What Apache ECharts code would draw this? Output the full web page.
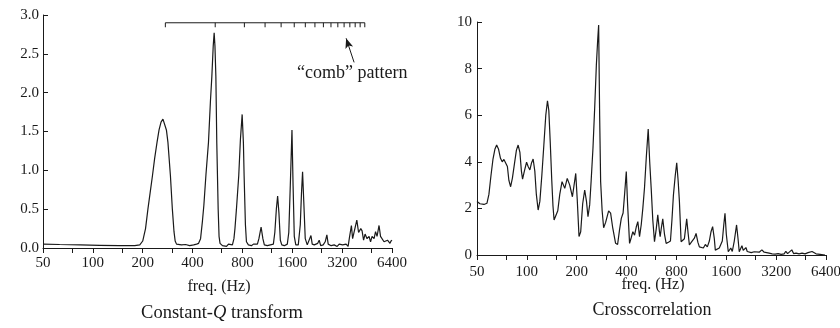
<!DOCTYPE html>
<html><head><meta charset="utf-8">
<script src="https://cdn.jsdelivr.net/npm/echarts@6/dist/echarts.min.js"></script>
<style>html,body{margin:0;padding:0;background:#fff}#c{width:840px;height:328px}</style>
</head><body><div id="c"></div>
<script>
// ---- data (frequency in Hz, amplitude) ----
const cqSpectrum = [[50,0.05],[63,0.045],[84,0.04],[110,0.035],[145,0.03],[179,0.03],[192,0.04],[200,0.09],[208,0.25],[215,0.5],[222,0.72],[229,0.93],[236,1.15],[244,1.36],[251,1.52],[258,1.62],[265,1.66],[271,1.64],[278,1.52],[284,1.36],[294,0.93],[302,0.5],[309,0.21],[314,0.09],[320,0.05],[343,0.04],[363,0.045],[384,0.03],[406,0.04],[423,0.05],[435,0.06],[447,0.12],[459,0.35],[468,0.55],[482,0.95],[499,1.36],[513,1.9],[523,2.21],[533,2.6],[540,2.77],[546,2.6],[553,2.21],[560,1.36],[571,0.5],[578,0.15],[586,0.06],[606,0.03],[623,0.05],[641,0.02],[659,0.05],[677,0.03],[696,0.04],[711,0.12],[721,0.25],[736,0.5],[760,0.93],[778,1.4],[797,1.72],[811,1.35],[819,0.93],[834,0.3],[846,0.08],[869,0.04],[906,0.03],[932,0.05],[958,0.03],[985,0.05],[1006,0.12],[1037,0.27],[1063,0.12],[1085,0.04],[1131,0.03],[1179,0.04],[1230,0.05],[1255,0.2],[1282,0.5],[1305,0.67],[1329,0.45],[1355,0.1],[1383,0.04],[1432,0.03],[1493,0.05],[1524,0.2],[1556,0.8],[1593,1.52],[1618,0.8],[1645,0.15],[1680,0.04],[1739,0.04],[1788,0.3],[1818,0.7],[1846,0.98],[1877,0.6],[1916,0.12],[1970,0.04],[2025,0.05],[2074,0.16],[2111,0.05],[2171,0.04],[2232,0.03],[2279,0.06],[2326,0.1],[2375,0.03],[2459,0.04],[2528,0.08],[2588,0.17],[2636,0.05],[2747,0.03],[2864,0.04],[2986,0.02],[3070,0.05],[3143,0.06],[3222,0.04],[3290,0.03],[3382,0.05],[3477,0.02],[3551,0.15],[3640,0.29],[3701,0.12],[3779,0.14],[3924,0.36],[4022,0.2],[4147,0.25],[4222,0.22],[4311,0.1],[4402,0.18],[4525,0.12],[4653,0.15],[4750,0.08],[4850,0.15],[4987,0.12],[5092,0.21],[5198,0.15],[5345,0.29],[5457,0.15],[5572,0.17],[5728,0.08],[5865,0.06],[6013,0.1],[6139,0.12],[6225,0.06],[6312,0.09],[6400,0.1]];

const xcSpectrum = [[50,2.3],[52.1,2.2],[55.1,2.17],[57.4,2.22],[59,2.6],[60.7,3.4],[62.4,4.1],[64.2,4.55],[65.7,4.72],[67.4,4.55],[69.3,4.15],[71,4.0],[72.7,4.1],[74.4,4.18],[76.3,3.8],[77.9,3.2],[79.8,2.93],[81.8,3.3],[84.1,3.9],[86.5,4.5],[88.6,4.72],[90.8,4.4],[92.7,3.6],[94.2,3.26],[96.6,3.6],[99.6,3.98],[101.8,3.8],[104.3,3.65],[106.7,3.95],[109.1,4.12],[111.7,3.6],[114.1,2.6],[117,1.93],[119.8,2.3],[123.1,3.4],[126.6,4.7],[130.1,6.0],[133.2,6.62],[135.7,6.2],[138.5,4.8],[141.4,3.2],[143.8,2.1],[146,1.5],[149.5,1.47],[153.7,1.9],[158,2.6],[163.1,3.15],[169.4,2.86],[175.3,3.29],[181.5,3.0],[188.4,2.5],[197.3,3.5],[201.4,2.4],[206.5,0.79],[211.4,1.0],[217.3,2.2],[223.5,2.79],[229.1,2.3],[233.9,1.64],[239.5,2.15],[244.5,3.2],[250.7,4.58],[256.7,6.3],[262.8,8.15],[267.6,9.2],[271.3,9.87],[275.1,6.0],[278.9,3.15],[284.8,1.9],[290.8,1.17],[299,1.4],[311.7,1.89],[320.4,1.8],[329.4,1.2],[343.4,0.5],[353.1,0.45],[363,1.1],[371.7,1.57],[381.1,1.8],[389.1,2.6],[398.4,3.58],[405.6,2.2],[417,0.5],[427,0.75],[436.5,1.0],[446.9,0.85],[457.6,1.2],[467.8,1.43],[479,0.79],[490.4,1.3],[501.4,2.0],[513.4,2.9],[526.3,4.2],[540.4,5.41],[551.7,4.0],[563.3,2.86],[576,1.5],[589.7,0.57],[603.8,1.1],[617.3,1.72],[632,1.0],[638.2,0.79],[649.8,1.2],[661.6,1.55],[677.4,0.9],[693.6,0.5],[716,0.55],[736.2,0.6],[751.6,1.5],[767.4,2.58],[786.8,3.4],[803.3,3.96],[819.1,3.2],[834,2.29],[853.9,0.57],[875.4,0.6],[893.8,0.7],[922.8,1.55],[942.2,0.9],[958,0.43],[984.9,0.55],[1005.6,0.6],[1026.7,0.72],[1051.1,0.93],[1077.8,0.55],[1100.4,0.35],[1131.4,0.4],[1163.2,0.3],[1195.8,0.45],[1229.5,0.35],[1264.1,0.6],[1294.2,1.0],[1323.3,1.22],[1354.8,0.7],[1373.7,0.21],[1412.3,0.25],[1452,0.3],[1482.6,0.25],[1513.7,0.6],[1545.5,1.3],[1571.4,1.79],[1600,0.9],[1645,0.14],[1703,0.3],[1739,0.15],[1788,0.6],[1846,1.29],[1884,0.7],[1916,0.14],[1989,0.4],[2025,0.2],[2068,0.25],[2102,0.32],[2141,0.15],[2201,0.15],[2263,0.1],[2359,0.14],[2425,0.08],[2528,0.12],[2624,0.22],[2710,0.12],[2786,0.07],[2904,0.08],[3027,0.05],[3156,0.04],[3290,0.06],[3430,0.03],[3575,0.05],[3661,0.16],[3753,0.06],[3832,0.1],[3978,0.22],[4078,0.06],[4222,0.08],[4402,0.05],[4589,0.08],[4783,0.05],[4987,0.1],[5127,0.08],[5271,0.15],[5419,0.12],[5572,0.05],[5728,0.07],[5889,0.03],[6055,0.05],[6312,0.0]];

const freqLabels = [50, 100, 200, 400, 800, 1600, 3200, 6400];
const freqTicks = [50, 75, 100, 150, 200, 300, 400, 600, 800, 1200, 1600, 2400, 3200, 4800, 6400];
const combF0 = 274;
const combHarmonics = [1,2,3,4,5,6,7,8,9,10,11,12,13,14,15,16];
const combLevel = 2.9;
const combArrow = [[3779, 2.39], [3382, 2.70]];

// ---- chart ----
const FONT = '"Liberation Serif", "Times New Roman", serif';
const INK = '#1a1a1a';
const oct = f => Math.log2(f / 50);

function freqAxis(gridIndex, margin) {
  // one label per octave (value axis in octaves above 50 Hz); labels read from freqLabels
  return {
    type: 'value', gridIndex, min: 0, max: freqLabels.length - 1, interval: 1,
    splitLine: { show: false },
    axisLine: { onZero: false, lineStyle: { color: INK, width: 1 } },
    axisTick: { show: true, inside: false, length: 5, lineStyle: { color: INK }, customValues: freqTicks.map(oct) },
    axisLabel: { hideOverlap: false, showMinLabel: true, showMaxLabel: true,
      margin, fontFamily: FONT, fontSize: 15, color: INK,
      formatter: v => String(freqLabels[Math.round(v)]) }
  };
}
function ampAxis(gridIndex, max, interval, digits, margin) {
  return {
    type: 'value', gridIndex, min: 0, max, interval,
    splitLine: { show: false },
    axisLine: { show: true, onZero: false, lineStyle: { color: INK, width: 1 } },
    axisTick: { show: true, inside: true, length: 5, lineStyle: { color: INK } },
    axisLabel: { margin, hideOverlap: false, fontFamily: FONT, fontSize: 15, color: INK, formatter: v => v.toFixed(digits) }
  };
}

const chart = echarts.init(document.getElementById('c'), null, { renderer: 'canvas' });
chart.setOption({
  animation: false,
  backgroundColor: '#fff',
  grid: [
    { left: 43, top: 15, width: 349, height: 233, containLabel: false, outerBoundsMode: 'none' },
    { left: 477, top: 22, width: 349, height: 233, containLabel: false, outerBoundsMode: 'none' }
  ],
  xAxis: [freqAxis(0, 8), freqAxis(1, 10)],
  yAxis: [ampAxis(0, 3, 0.5, 1, 4), ampAxis(1, 10, 2, 0, 5)],
  series: [
    { type: 'line', xAxisIndex: 0, yAxisIndex: 0, showSymbol: false, symbol: 'none', clip: false,
      lineStyle: { color: INK, width: 1.2 }, data: cqSpectrum.map(d => [oct(d[0]), d[1]]) },
    { type: 'line', xAxisIndex: 1, yAxisIndex: 1, showSymbol: false, symbol: 'none', clip: false,
      lineStyle: { color: INK, width: 1.2 }, data: xcSpectrum.map(d => [oct(d[0]), d[1]]) },
    { type: 'line', xAxisIndex: 0, yAxisIndex: 0, showSymbol: false, symbol: 'none', clip: false,
      lineStyle: { color: INK, width: 1 },
      data: [[oct(combF0 * combHarmonics[0]), combLevel], [oct(combF0 * combHarmonics[combHarmonics.length - 1]), combLevel]],
      markLine: { silent: true, animation: false, symbol: ['none', 'arrow'], symbolSize: [6, 10],
        label: { show: false }, lineStyle: { color: INK, width: 1, type: 'solid' },
        data: [[{ coord: [oct(combArrow[0][0]), combArrow[0][1]] }, { coord: [oct(combArrow[1][0]), combArrow[1][1]] }]] } },
    { type: 'custom', xAxisIndex: 0, yAxisIndex: 0, clip: false,
      data: combHarmonics.map(h => [oct(combF0 * h), combLevel]),
      encode: { x: 0, y: 1 },
      renderItem: (params, api) => {
        const p = api.coord([api.value(0), api.value(1)]);
        return { type: 'line', shape: { x1: p[0], y1: p[1], x2: p[0], y2: p[1] + 4.5 },
          style: { stroke: INK, lineWidth: 1 } };
      } }
  ],
  graphic: [
    { type: 'text', x: 297, y: 73, style: { text: '\u201Ccomb\u201D pattern', font: '18px ' + FONT, fill: INK, align: 'left', verticalAlign: 'middle', textAlign: 'left', textVerticalAlign: 'middle' } },
    { type: 'text', x: 219, y: 287, style: { text: 'freq. (Hz)', font: '16px ' + FONT, fill: INK, align: 'center', verticalAlign: 'middle', textAlign: 'center', textVerticalAlign: 'middle' } },
    { type: 'text', x: 653, y: 285, style: { text: 'freq. (Hz)', font: '16px ' + FONT, fill: INK, align: 'center', verticalAlign: 'middle', textAlign: 'center', textVerticalAlign: 'middle' } },
    { type: 'text', x: 222, y: 313, style: { text: '{n|Constant-}{i|Q}{n| transform}', fill: INK,
        rich: { n: { fontFamily: FONT, fontSize: 18.5, color: INK }, i: { fontFamily: FONT, fontSize: 18.5, fontStyle: 'italic', color: INK } },
        align: 'center', verticalAlign: 'middle', textAlign: 'center', textVerticalAlign: 'middle' } },
    { type: 'text', x: 652, y: 310, style: { text: 'Crosscorrelation', font: '18px ' + FONT, fill: INK, align: 'center', verticalAlign: 'middle', textAlign: 'center', textVerticalAlign: 'middle' } }
  ]
});
</script>
</body></html>
